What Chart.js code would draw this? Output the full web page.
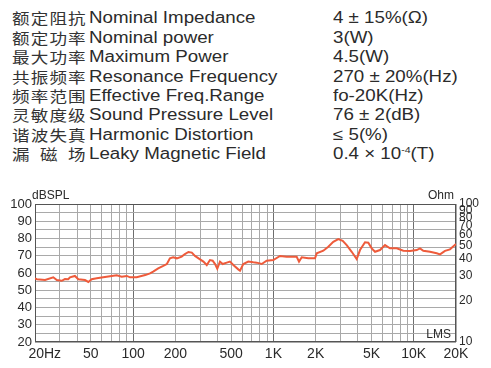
<!DOCTYPE html>
<html>
<head>
<meta charset="utf-8">
<script src="https://cdn.jsdelivr.net/npm/chart.js@4.4.1/dist/chart.umd.min.js"></script>
<style>
  html, body { margin: 0; padding: 0; background: #fff; }
  body { width: 491px; height: 368px; position: relative; overflow: hidden;
         font-family: "Liberation Sans", Arial, "Noto Sans CJK SC", sans-serif; color: #2b2b2b; }
  .cell { position: absolute; height: 20px; line-height: 20px; font-size: 16px; white-space: nowrap;
          transform: scaleX(1.17); transform-origin: 0 50%; }
  .cn { font-family: "Noto Sans CJK SC", sans-serif; font-size: 15px; width: 63px;
        display: flex; justify-content: space-between; color: #333; }
  sup { font-size: 9px; line-height: 0; vertical-align: 6px; }
  #wrap { position: absolute; left: 0; top: 185px; width: 491px; height: 183px; }
</style>
</head>
<body>
<div id="specs"></div>
<div id="wrap"><canvas id="resp" width="491" height="183"></canvas></div>
<script>
// spec table
const specCn = ['额定阻抗', '额定功率', '最大功率', '共振频率', '频率范围', '灵敏度级', '谐波失真', '漏 磁 场'];
const specEn = ['Nominal Impedance', 'Nominal power', 'Maximum Power', 'Resonance Frequency',
                'Effective Freq.Range', 'Sound Pressure Level', 'Harmonic Distortion', 'Leaky Magnetic Field'];
const specVal = ['4 ± 15%(Ω)', '3(W)', '4.5(W)', '270 ± 20%(Hz)', 'fo-20K(Hz)', '76 ± 2(dB)', '≤ 5(%)',
                 '0.4 × 10<sup>-4</sup>(T)'];

// frequency response
const freqHz = [20, 20.6, 23.6, 27, 28.6, 31, 32.7, 34.5, 35.5, 38.5, 40.7, 45.4, 48, 50.7, 55.1, 61.3, 70.4,
  76.4, 83, 90.1, 95.1, 106, 122, 132, 139, 151, 164, 174, 183, 193, 205, 222, 234, 248, 262, 276, 300,
  317, 335, 353, 369, 384, 398, 416, 435, 465, 490, 518, 562, 578, 610, 662, 719, 760, 825, 895, 998,
  1114, 1243, 1465, 1522, 1591, 1773, 1979, 2035, 2267, 2461, 2671, 2899, 3117, 3328, 3612, 3921, 4140,
  4494, 4744, 5016, 5297, 5747, 6239, 6770, 7559, 8425, 9403, 10496, 11082, 11699, 13056, 14572, 15386,
  16696, 18121, 20000];
const splDb = [56.9, 56.4, 55.9, 57.5, 55.9, 55.5, 56.5, 56.4, 57.5, 58.3, 56.4, 55.9, 54.8, 56.4, 56.9,
  57.5, 58.3, 58.7, 57.9, 58.3, 57.5, 57.5, 58.8, 59.8, 60.8, 62.7, 64.1, 65.2, 68.5, 69.1, 68.5, 69.5,
  71.0, 72.2, 71.8, 69.9, 67.9, 66.6, 64.6, 67.5, 67.1, 65.2, 62.5, 66.6, 65.2, 66.0, 66.6, 64.6, 62.1,
  61.3, 65.2, 66.6, 66.2, 66.0, 65.2, 67.1, 67.5, 69.9, 69.4, 69.4, 66.6, 69.1, 68.5, 68.5, 71.4, 72.9,
  75.2, 78.1, 79.7, 78.7, 76.2, 72.3, 68.1, 73.3, 77.8, 77.6, 74.3, 72.3, 73.3, 76.2, 74.3, 74.3, 72.9,
  72.8, 73.3, 74.3, 72.9, 72.3, 71.4, 70.8, 72.8, 73.7, 76.8];

const freqTicks = [20, 30, 40, 50, 60, 70, 80, 90, 100, 200, 300, 400, 500, 600, 700, 800, 900,
  1000, 2000, 3000, 4000, 5000, 6000, 7000, 8000, 9000, 10000, 20000];
// leading spaces nudge the first label right, as in the original
const freqLabels = { 20: '     20Hz', 50: '50', 100: '100', 200: '200', 500: '500',
  1000: '1K', 2000: '2K', 5000: '5K', 10000: '10K', 20000: '20K' };
const decades = [100, 1000, 10000];
const dbTicks = [20, 25, 30, 35, 40, 45, 50, 55, 60, 65, 70, 75, 80, 85, 90, 95, 100];
const ohmTicks = [10, 20, 30, 40, 50, 60, 70, 80, 90, 100];

// build spec rows
const specs = document.getElementById('specs');
specCn.forEach((cn, i) => {
  const top = 8.3 + i * 19.43;
  const chars = cn.includes(' ') ? cn.split(' ') : cn.split('');
  specs.insertAdjacentHTML('beforeend',
    `<div class="cell cn" style="left:12px;top:${top}px">${chars.map(c => `<span>${c}</span>`).join('')}</div>` +
    `<div class="cell" style="left:89px;top:${top}px">${specEn[i]}</div>` +
    `<div class="cell" style="left:333px;top:${top}px">${specVal[i]}</div>`);
});

const textColor = '#2a2a2a';

const frame = {
  id: 'frame',
  beforeDatasetsDraw(chart) {
    const { ctx, chartArea: a } = chart;
    ctx.save();
    ctx.strokeStyle = '#555';
    ctx.lineWidth = 1;
    ctx.strokeRect(a.left + 0.5, a.top + 0.5, a.right - a.left - 1, a.bottom - a.top - 1);
    ctx.fillStyle = textColor;
    ctx.font = '12px "Liberation Sans", Arial, sans-serif';
    ctx.textBaseline = 'alphabetic';
    ctx.textAlign = 'left';
    ctx.fillText('dBSPL', a.left - 3, a.top - 5);
    ctx.textAlign = 'right';
    ctx.fillText('Ohm', a.right - 2, a.top - 5);
    ctx.fillText('LMS', a.right - 5, a.bottom - 4);
    ctx.restore();
  }
};

new Chart(document.getElementById('resp'), {
  type: 'line',
  data: {
    datasets: [{
      data: freqHz.map((f, i) => ({ x: f, y: splDb[i] })),
      yAxisID: 'y',
      borderColor: '#ee5b3b',
      borderWidth: 2,
      pointRadius: 0,
      tension: 0
    }]
  },
  options: {
    responsive: false,
    animation: false,
    devicePixelRatio: 1,
    layout: { padding: { top: 19, left: 0, right: 0, bottom: 0 } },
    plugins: { legend: { display: false }, tooltip: { enabled: false } },
    scales: {
      x: {
        type: 'logarithmic',
        min: 20,
        max: 20000,
        afterBuildTicks: s => { s.ticks = freqTicks.map(v => ({ value: v })); },
        afterFit: s => { s.height = 26; },
        ticks: {
          autoSkip: false, maxRotation: 0, padding: 4, color: textColor,
          font: { family: '"Liberation Sans", Arial, sans-serif', size: 14 },
          callback: v => freqLabels[v] || ''
        },
        grid: { drawTicks: false, color: c => decades.includes(c.tick && c.tick.value) ? '#6e6e6e' : '#a9a9a9' },
        border: { display: false }
      },
      y: {
        type: 'linear',
        position: 'left',
        min: 20,
        max: 100,
        afterBuildTicks: s => { s.ticks = dbTicks.map(v => ({ value: v })); },
        afterFit: s => { s.width = 35; },
        ticks: {
          autoSkip: false, padding: 3, color: textColor,
          font: { family: '"Liberation Sans", Arial, sans-serif', size: 13 },
          callback: v => (v % 10 === 0 ? v : '')
        },
        grid: { drawTicks: false, color: '#a9a9a9' },
        border: { display: false }
      },
      y1: {
        type: 'logarithmic',
        position: 'right',
        min: 10,
        max: 100,
        afterBuildTicks: s => { s.ticks = ohmTicks.map(v => ({ value: v })); },
        afterFit: s => { s.width = 35; },
        ticks: {
          autoSkip: false, padding: 3, color: textColor,
          font: { family: '"Liberation Sans", Arial, sans-serif', size: 12 },
          callback: v => String(v)
        },
        grid: { drawOnChartArea: false, drawTicks: false },
        border: { display: false }
      }
    }
  },
  plugins: [frame]
});
</script>
</body>
</html>
